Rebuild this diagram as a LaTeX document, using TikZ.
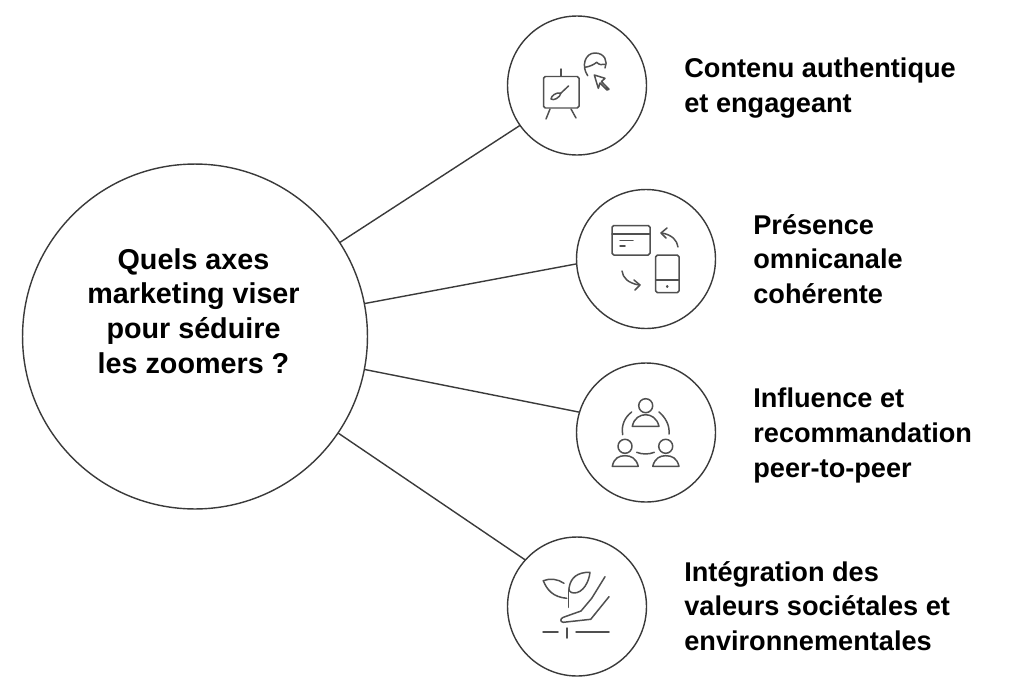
\documentclass[tikz,border=0pt]{standalone}
\usepackage{fontspec}
\setmainfont{Liberation Sans}
\tikzset{
  bubble/.style={draw=linegray, line width=0.8pt, circle, inner sep=0pt, outer sep=0pt, fill=white},
  link/.style={draw=linegray, line width=0.8pt},
  axis/.style={font=\fontsize{15.45}{19.8}\selectfont\bfseries, text=black, align=left, anchor=west, inner sep=0pt},
  question/.style={font=\fontsize{16.35}{19.8}\selectfont\bfseries, text=black, align=center, inner sep=0pt},
  glyph/.style={draw=icongray, line width=0.85pt, line cap=round, line join=round},
}
\definecolor{linegray}{HTML}{3A3A3A}
\definecolor{icongray}{HTML}{505050}
\begin{document}
\begin{tikzpicture}[x=0.02cm,y=-0.02cm]
\useasboundingbox (0,0) rectangle (1024,683);
% Cercles
\node[bubble, minimum size=6.9cm] (main) at (195,336.5) {};
\node[bubble, minimum size=2.78cm] (contenu) at (577,85.5) {};
\node[bubble, minimum size=2.78cm] (presence) at (646,259) {};
\node[bubble, minimum size=2.78cm] (influence) at (646,432.5) {};
\node[bubble, minimum size=2.78cm] (valeurs) at (577,606.5) {};
% Liens
\draw[link] (main.33) -- (contenu.215);
\draw[link] (main.11) -- (presence.184);
\draw[link] (main.-11.5) -- (influence.163);
\draw[link] (main.-34.5) -- (valeurs.138);
% Textes
\node[question] (titre) at (193.5,311) {Quels axes\\marketing viser\\pour séduire\\les zoomers ?};
\node[axis] (t1) at (684,88) {Contenu authentique\\et engageant};
\node[axis] (t2) at (753,259) {Présence\\omnicanale\\cohérente};
\node[axis] (t3) at (753,435.5) {Influence et\\recommandation\\peer-to-peer};
\node[axis] (t4) at (684,606) {Intégration des\\valeurs sociétales et\\environnementales};
% Chevalet
\draw[glyph, rounded corners=1] (543.5,76.5) rectangle (579,108);
\draw[glyph] (561,69) -- (561,76);
\draw[glyph] (550,109) -- (546,119);
\draw[glyph] (571,109) -- (576,118);
\draw[glyph] (568.5,86) -- (561,93);
\draw[glyph] (561,93) .. controls (556,92) and (551,96) .. (551,99) .. controls (553,101) and (560,98) .. (561,93);
% Tete et curseur
\draw[glyph] (587.7,75.7) .. controls (581,66) and (585,53) .. (595,53) .. controls (605,53) and (608,62) .. (605,68);
\draw[glyph] (585,67.3) .. controls (590,66.5) and (594,64.5) .. (596.7,62.3) .. controls (599,65) and (602,65) .. (605,64.3);
\draw[glyph] (594.3,75) -- (605,78.3) -- (601.5,81.5) -- (609,89.3) -- (607,90) -- (600,83) -- (598.3,88.3) -- cycle;
% Ecran et telephone
\draw[glyph, rounded corners=1] (612,225.5) rectangle (650,255);
\draw[glyph] (612,234) -- (650,234);
\draw[glyph] (620,240.5) -- (633,240.5);
\draw[glyph] (620,246) -- (625,246);
\draw[glyph, rounded corners=1] (655.7,255) rectangle (679,292.7);
\draw[glyph] (655.7,280) -- (679,280);
\draw[glyph, line width=1.2pt] (667,286.5) -- (667.5,286.5);
\draw[glyph] (678,247) .. controls (677,240) and (672,235) .. (662,233);
\draw[glyph] (667,228) -- (661,233) -- (666,238);
\draw[glyph] (622,271) .. controls (623,278) and (628,283) .. (639,285);
\draw[glyph] (634,280) -- (640,285) -- (635,290);
% Trois personnes
\draw[glyph] (645.7,405.7) circle (7);
\draw[glyph] (632.3,426.3) .. controls (634,418) and (640,414.7) .. (645.7,414.7) .. controls (651,414.7) and (657,418) .. (659,426.3) -- cycle;
\draw[glyph] (625,446.3) circle (7);
\draw[glyph] (612.3,466.3) .. controls (614,458) and (619,455.7) .. (625,455.7) .. controls (631,455.7) and (636,458) .. (638.3,466.3) -- cycle;
\draw[glyph] (665.7,446.3) circle (7);
\draw[glyph] (652.7,466.3) .. controls (655,458) and (660,455.7) .. (665.7,455.7) .. controls (672,455.7) and (677,458) .. (679,466.3) -- cycle;
\draw[glyph] (631.7,412) .. controls (625,417) and (621,425) .. (622.7,434.7);
\draw[glyph] (659,412) .. controls (665,417) and (670,425) .. (669,434);
\draw[glyph] (636.7,452.3) .. controls (642,454.5) and (649,454.5) .. (654.3,452.3);
% Plante et main
\draw[glyph] (568.3,607.3) -- (568.3,590);
\draw[glyph] (543.3,580.7) .. controls (550,578) and (558,579) .. (564,583.3);
\draw[glyph] (543.3,580.7) .. controls (547,590) and (553,597) .. (566.7,598.3);
\draw[glyph] (569.3,586.7) .. controls (571,578) and (577,572) .. (590,572.3) .. controls (589,582) and (583,593) .. (574,593) .. controls (570,593) and (568,590) .. (569.3,586.7);
\draw[glyph] (605,576.7) -- (591.7,598.3) -- (581,611) -- (563.3,617.3) .. controls (560,618.5) and (560,622) .. (563.3,622.3) -- (590.7,619.3) -- (609,596.7);
\draw[glyph] (543,632) -- (558,632);
\draw[glyph] (576,632) -- (609,632);
\draw[glyph] (567,628) -- (567,638);
\end{tikzpicture}
\end{document}
